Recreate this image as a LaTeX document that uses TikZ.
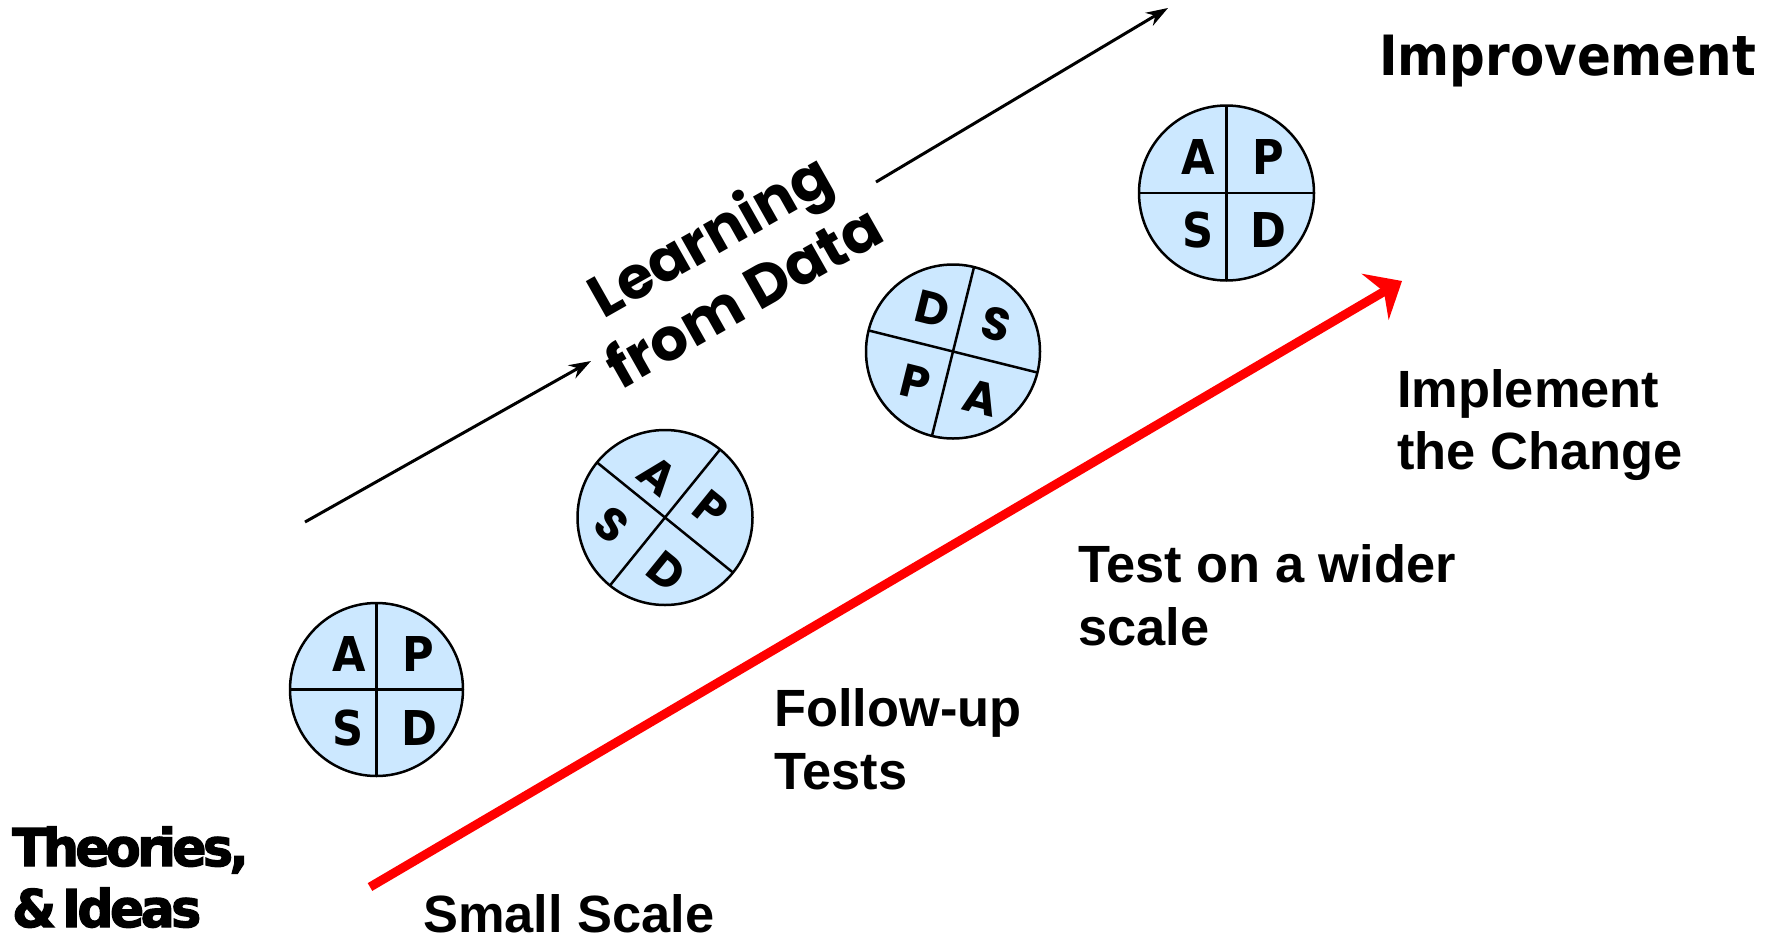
\documentclass[tikz,border=0pt]{standalone}
\usepackage{fontspec}
\usetikzlibrary{arrows.meta}
\newfontfamily\lab{Liberation Sans}
\newfontfamily\dvc{DejaVu Sans Condensed}
\newfontfamily\dvheavy{DejaVu Sans Bold}[FakeBold=2.5, LetterSpace=-7]
\newfontfamily\pop{Poppins}
\definecolor{pdsafill}{RGB}{204,232,255}
\begin{document}
\begin{tikzpicture}[x=1pt,y=1pt,
  pdsa/.style={circle, draw=black, line width=2.5pt, fill=pdsafill, minimum size=175pt, inner sep=0pt, outer sep=0pt},
  cross/.style={line width=2.5pt},
  lt/.style={font=\dvc\bfseries\fontsize{48}{48}\selectfont, inner sep=0pt},
  lg/.style={font=\pop\bfseries\fontsize{46}{46}\selectfont, inner sep=0pt},
  lbl/.style={font=\lab\bfseries\fontsize{52.4}{62.5}\selectfont, align=left, inner sep=0pt, anchor=base west},
  blackarrow/.style={line width=3pt, -{Stealth[length=22pt,width=15pt]}},
  redarrow/.style={draw=red, line width=9pt, -{Stealth[length=31pt,width=53pt,inset=10pt]}}
]
\useasboundingbox (0,0) rectangle (1783,-940);

% circle 1
\node[pdsa, minimum size=173pt] (c1) at (376.5,-689.5) {};
\draw[cross] (c1.north) -- (c1.south);
\draw[cross] (c1.west) -- (c1.east);
\begin{scope}[shift={(c1.center)}]
  \node[lt] (c1a) at (-27,35.5) {A};
  \node[lt] (c1p) at (41.5,35.5) {P};
  \node[lt] (c1s) at (-28.5,-38.5) {S};
  \node[lt] (c1d) at (43,-38.5) {D};
\end{scope}

% circle 2
\node[pdsa] (c2) at (665,-517.5) {};
\draw[cross] (c2.51) -- (c2.231);
\draw[cross] (c2.-39) -- (c2.141);
\begin{scope}[shift={(c2.center)}, rotate=-39, transform shape]
  \node[lg] (c2a) at (-31.5,28) {A};
  \node[lg] (c2p) at (30.5,35.5) {P};
  \node[lg] (c2d) at (35.5,-40.5) {D};
  \node[lg] (c2s) at (-36.5,-39) {S};
\end{scope}

% circle 3
\node[pdsa, minimum size=174pt] (c3) at (953,-351.5) {};
\draw[cross] (c3.76) -- (c3.256);
\draw[cross] (c3.-14) -- (c3.166);
\begin{scope}[shift={(c3.center)}, rotate=-14, transform shape]
  \node[lg] (c3d) at (-29.7,36.4) {D};
  \node[lg] (c3s) at (35,37.1) {S};
  \node[lg] (c3p) at (-29.5,-38.8) {P};
  \node[lg] (c3a) at (38.5,-38.3) {A};
\end{scope}

% circle 4
\node[pdsa] (c4) at (1226.5,-193) {};
\draw[cross] (c4.north) -- (c4.south);
\draw[cross] (c4.west) -- (c4.east);
\begin{scope}[shift={(c4.center)}]
  \node[lt] (c4a) at (-28,36) {A};
  \node[lt] (c4p) at (42,36) {P};
  \node[lt] (c4s) at (-28,-37) {S};
  \node[lt] (c4d) at (42,-37) {D};
\end{scope}

% arrows
\coordinate (b1s) at (305,-522);
\coordinate (b1e) at (591,-361);
\coordinate (b2s) at (876,-182);
\coordinate (b2e) at (1168,-8);
\draw[blackarrow] (b1s) -- (b1e);
\draw[blackarrow] (b2s) -- (b2e);
\coordinate (rs) at (370,-887);
\coordinate (re) at (1402,-281);
\draw[redarrow] (rs) -- (re);

% learning text
\node[font=\pop\bfseries\fontsize{59}{70}\selectfont, align=center, rotate=29.5, inner sep=0pt] (learn) at (725.5,-264) {Learning\\from Data};

% labels
\node[font=\dvc\bfseries\fontsize{55.5}{55.5}\selectfont, inner sep=0pt, anchor=base west] (imp) at (1379,-75) {Improvement};
\node[lbl] (impl) at (1397,-469.5) {Implement\\the Change};
\node[lbl] (wider) at (1078,-645) {Test on a wider\\scale};
\node[lbl] (follow) at (774,-789) {Follow-up\\Tests};
\node[lbl] (small) at (423,-932) {Small Scale};
\node[font=\dvheavy\fontsize{52}{61}\selectfont, align=left, inner sep=0pt, anchor=base west, xscale=0.97] (theo) at (12,-927) {Theories,\\\&\hspace{0.12em}Ideas};
\end{tikzpicture}
\end{document}
